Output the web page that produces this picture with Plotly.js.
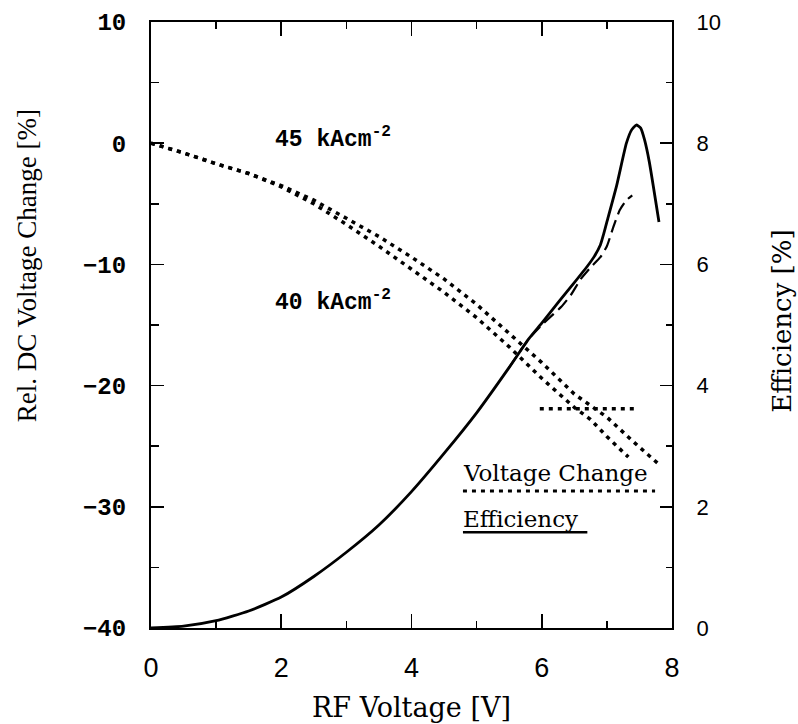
<!DOCTYPE html>
<html>
<head>
<meta charset="utf-8">
<script src="https://cdn.plot.ly/plotly-3.0.1.min.js"></script>
<style>html,body{margin:0;padding:0;background:#fff;}#chart{width:798px;height:724px;}</style>
</head>
<body>
<div id="chart"></div>
<script>
// Efficiency (right axis, %)
const rfVoltEff = [0, 0.5, 1, 1.5, 2, 2.5, 3, 3.5, 4, 4.5, 5, 5.5, 5.8, 6.0, 6.25, 6.5, 6.7, 6.8, 6.9, 6.95, 7.0, 7.15, 7.3, 7.38, 7.45, 7.52, 7.58, 7.65, 7.8];
const effSolid  = [0, 0.03, 0.12, 0.28, 0.51, 0.85, 1.25, 1.7, 2.25, 2.88, 3.55, 4.3, 4.77, 5.03, 5.37, 5.7, 5.97, 6.12, 6.32, 6.5, 6.7, 7.3, 8.0, 8.22, 8.3, 8.25, 8.05, 7.7, 6.7];
const rfVoltEffDash = [5.5, 5.8, 6.0, 6.15, 6.3, 6.45, 6.6, 6.75, 6.9, 7.0, 7.1, 7.2, 7.3, 7.39];
const effDashed     = [4.3, 4.77, 5.0, 5.15, 5.3, 5.5, 5.76, 5.95, 6.12, 6.3, 6.62, 6.9, 7.06, 7.14];

// Relative DC voltage change (left axis, %)
const rfVolt45 = [0, 0.5, 1, 1.5, 2, 2.5, 3, 3.5, 4, 4.5, 5, 5.5, 6, 6.5, 7, 7.4, 7.8];
const volt45   = [0, -0.8, -1.7, -2.5, -3.5, -4.7, -6.2, -7.7, -9.4, -11.2, -13.3, -15.7, -18.1, -20.7, -22.6, -24.6, -26.5];
const rfVolt40 = [0, 0.5, 1, 1.5, 2, 2.5, 3, 3.5, 4, 4.5, 5, 5.5, 6, 6.5, 6.75, 7, 7.33];
const volt40   = [0, -0.8, -1.7, -2.5, -3.6, -5.0, -6.7, -8.5, -10.4, -12.3, -14.4, -16.8, -19.4, -21.8, -22.8, -24.2, -25.9];
const rfVoltRef = [5.97, 7.48];
const voltRef   = [-21.9, -21.9];

const labels = {
  x: 'RF Voltage [V]',
  yLeft: 'Rel. DC Voltage Change [%]',
  yRight: 'Efficiency [%]',
  j45: '45 kAcm<sup>-2</sup>',
  j40: '40 kAcm<sup>-2</sup>',
  legVolt: 'Voltage Change',
  legEff: 'Efficiency'
};

const dotLine = {color: '#000', width: 3.5, dash: '4px,5px'};

const traces = [
  {x: rfVolt45, y: volt45, mode: 'lines', line: dotLine, yaxis: 'y', hoverinfo: 'skip'},
  {x: rfVolt40, y: volt40, mode: 'lines', line: dotLine, yaxis: 'y', hoverinfo: 'skip'},
  {x: rfVoltRef, y: voltRef, mode: 'lines', line: dotLine, yaxis: 'y', hoverinfo: 'skip'},
  {x: rfVoltEff, y: effSolid, mode: 'lines', line: {color: '#000', width: 2.8, shape: 'spline', smoothing: 0.5}, yaxis: 'y2', hoverinfo: 'skip'},
  {x: rfVoltEffDash, y: effDashed, mode: 'lines', line: {color: '#000', width: 2.2, dash: '13px,6px', shape: 'spline', smoothing: 0.5}, yaxis: 'y2', hoverinfo: 'skip'}
];

const axCommon = {
  showline: true, linecolor: '#000', linewidth: 2,
  ticks: 'inside', tickcolor: '#000', tickwidth: 1.6,
  showgrid: false, zeroline: false, fixedrange: true
};

const layout = {
  width: 798, height: 724,
  margin: {l: 151, r: 126, t: 22, b: 96, pad: 0},
  paper_bgcolor: '#fff', plot_bgcolor: '#fff',
  showlegend: false,
  xaxis: Object.assign({}, axCommon, {
    range: [0, 8], tick0: 0, dtick: 2, ticklen: 14, mirror: 'ticks',
    minor: {ticks: 'inside', dtick: 1, ticklen: 7, tickwidth: 1.6, tickcolor: '#000', showgrid: false},
    tickfont: {family: 'Liberation Sans', size: 27, color: '#000'},
    ticklabelstandoff: 15,
    title: {text: labels.x, font: {family: 'DejaVu Serif', size: 27, color: '#000'}, standoff: 16}
  }),
  yaxis: Object.assign({}, axCommon, {
    range: [-40, 10], tick0: 0, dtick: 10, ticklen: 13,
    minor: {ticks: 'inside', dtick: 5, ticklen: 8, tickwidth: 1.6, tickcolor: '#000', showgrid: false},
    tickfont: {family: 'Liberation Mono', size: 24, color: '#000', weight: 'bold'},
    ticklabelstandoff: 18
  }),
  yaxis2: Object.assign({}, axCommon, {
    overlaying: 'y', side: 'right',
    range: [0, 10], tick0: 0, dtick: 2, ticklen: 12,
    minor: {ticks: 'inside', dtick: 1, ticklen: 6, tickwidth: 1.6, tickcolor: '#000', showgrid: false},
    tickfont: {family: 'Liberation Sans', size: 22, color: '#000'},
    ticklabelstandoff: 18
  }),
  annotations: [
    {text: labels.yLeft, xref: 'paper', yref: 'paper', x: -0.238, y: 0.597, xanchor: 'center', yanchor: 'middle', textangle: -90,
     showarrow: false, font: {family: 'Liberation Serif', size: 27, color: '#000'}},
    {text: labels.yRight, xref: 'paper', yref: 'paper', x: 1.211, y: 0.507, xanchor: 'center', yanchor: 'middle', textangle: -90,
     showarrow: false, font: {family: 'DejaVu Serif', size: 26, color: '#000'}},
    {text: labels.j45, xref: 'x', yref: 'y', x: 1.88, y: 0.4, xanchor: 'left', yanchor: 'middle',
     showarrow: false, font: {family: 'Liberation Mono', size: 23, color: '#000', weight: 'bold'}},
    {text: labels.j40, xref: 'x', yref: 'y', x: 1.88, y: -13.0, xanchor: 'left', yanchor: 'middle',
     showarrow: false, font: {family: 'Liberation Mono', size: 23, color: '#000', weight: 'bold'}},
    {text: labels.legVolt, xref: 'x', yref: 'y', x: 4.76, y: -27.2, xanchor: 'left', yanchor: 'middle',
     showarrow: false, font: {family: 'DejaVu Serif', size: 23, color: '#000'}},
    {text: labels.legEff, xref: 'x', yref: 'y', x: 4.76, y: -31.0, xanchor: 'left', yanchor: 'middle',
     showarrow: false, font: {family: 'DejaVu Serif', size: 23, color: '#000'}}
  ],
  shapes: [
    {type: 'line', xref: 'x', yref: 'y', x0: 4.79, x1: 7.74, y0: -28.7, y1: -28.7,
     line: {color: '#000', width: 3, dash: '4px,5px'}},
    {type: 'line', xref: 'x', yref: 'y', x0: 4.79, x1: 6.70, y0: -32.1, y1: -32.1,
     line: {color: '#000', width: 2.5}}
  ]
};

Plotly.newPlot('chart', traces, layout, {displayModeBar: false, staticPlot: true});
</script>
</body>
</html>
